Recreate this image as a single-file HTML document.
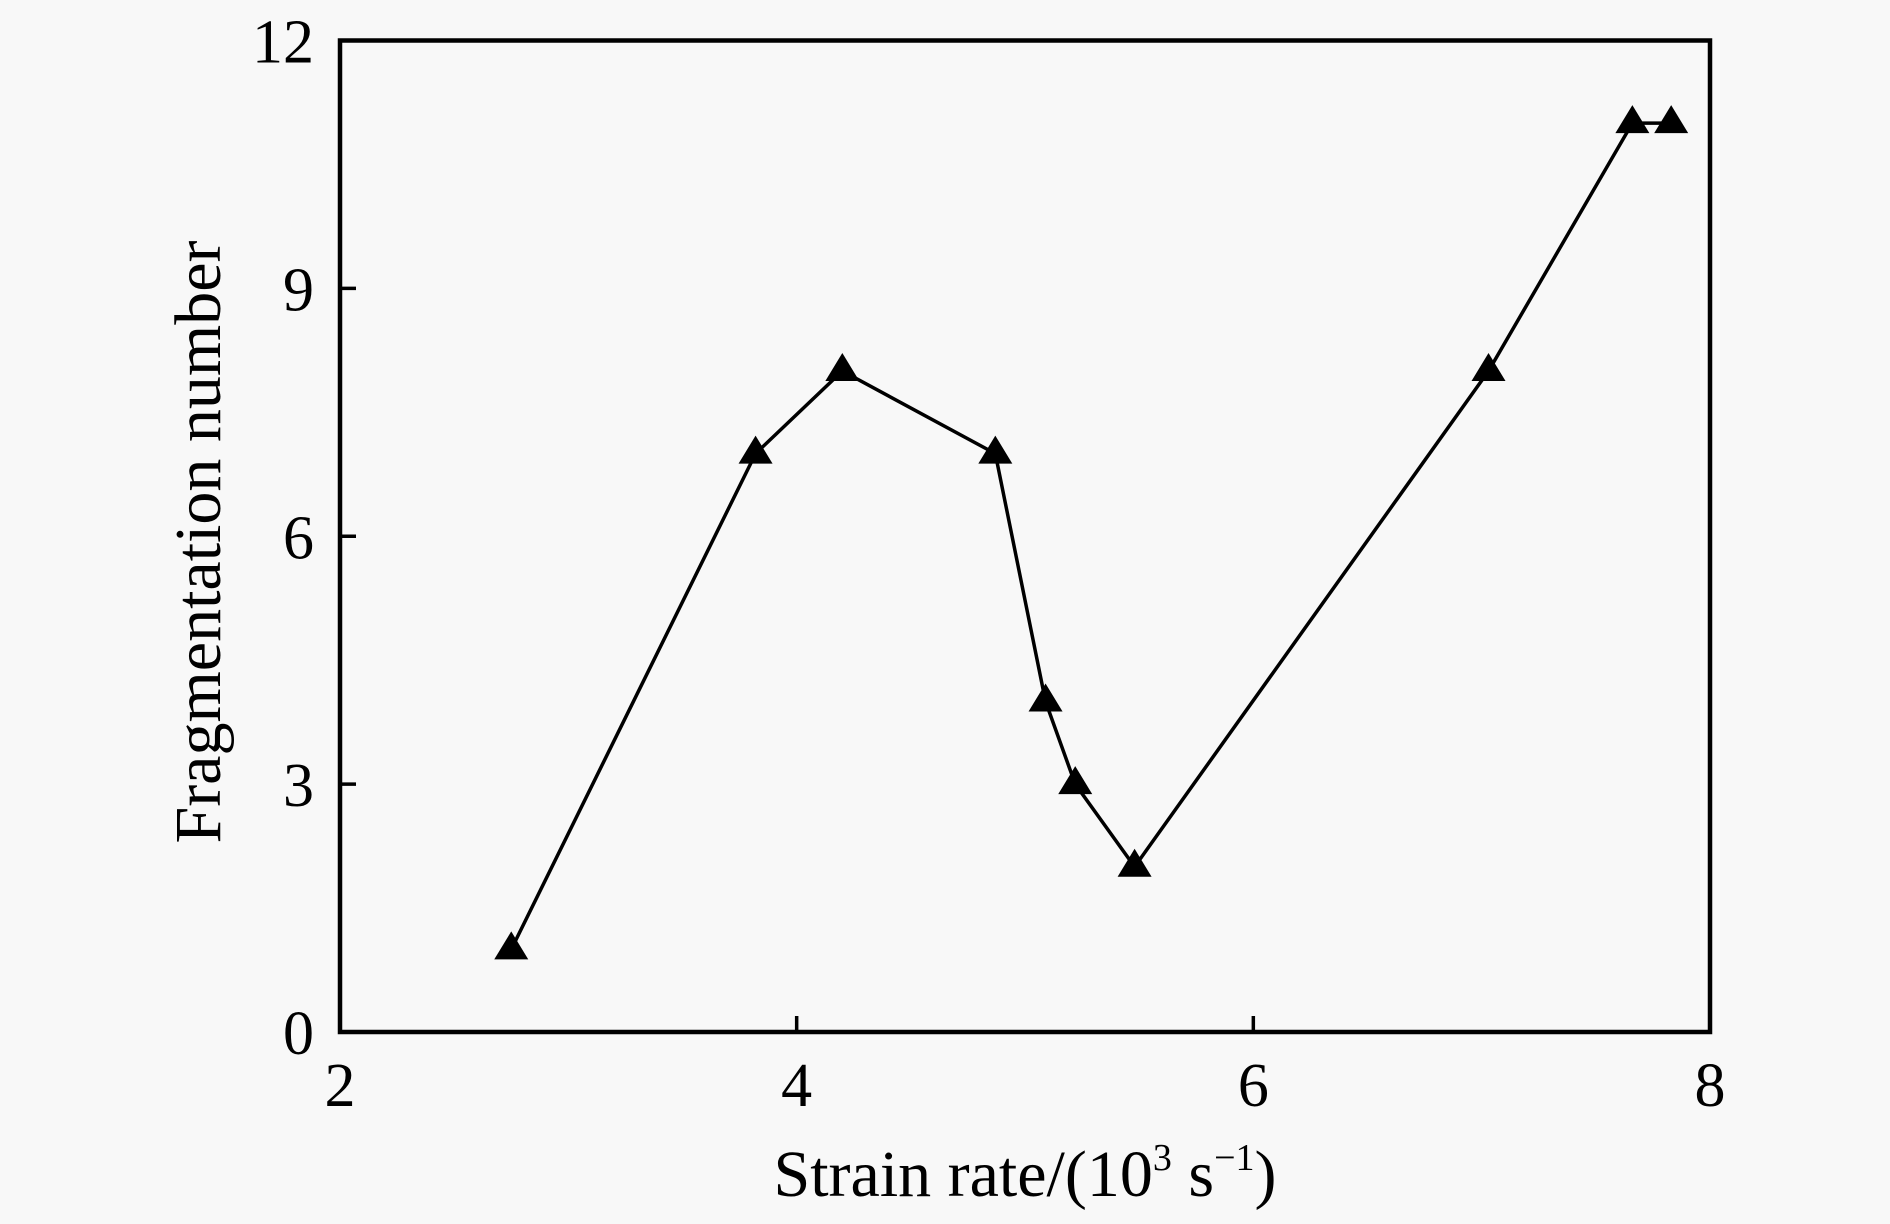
<!DOCTYPE html>
<html><head><meta charset="utf-8"><style>
html,body{margin:0;padding:0;background:#f8f8f8;}
svg{display:block;font-family:"Liberation Serif",serif;}
</style></head><body>
<svg id="chart" width="1890" height="1224" viewBox="0 0 1890 1224">
<rect x="0" y="0" width="1890" height="1224" fill="#f8f8f8"/>
<g id="ticks"></g>
<g id="series"></g>
<rect x="340" y="40.5" width="1370" height="991.5" fill="none" stroke="#000" stroke-width="4.5"/>
<text x="1025" y="1196" font-size="66" text-anchor="middle">Strain rate/(10<tspan font-size="38" dy="-26">3</tspan><tspan dy="26"> s</tspan><tspan font-size="38" dy="-26">−1</tspan><tspan dy="26">)</tspan></text>
<text transform="translate(220,542) rotate(-90)" font-size="66" text-anchor="middle">Fragmentation number</text>
</svg>
<script>
const xData=[2.75,3.82,4.2,4.87,5.09,5.22,5.48,7.03,7.66,7.83];
const yData=[1,7,8,7,4,3,2,8,11,11];
const xTicks=[2,4,6,8];
const yTicks=[0,3,6,9,12];
const NS="http://www.w3.org/2000/svg";
function sx(v){return 340+(v-2)*(1370/6);}
function sy(v){return 1032-v*(991.5/12);}
function mk(tag,attrs,parent){const e=document.createElementNS(NS,tag);for(const k in attrs)e.setAttribute(k,attrs[k]);parent.appendChild(e);return e;}
const tg=document.getElementById('ticks');
xTicks.forEach(t=>{
 const l=mk('line',{x1:sx(t),x2:sx(t),y1:1032,y2:1016,stroke:'#000','stroke-width':3.5},tg);
 
 
 const tx=mk('text',{x:sx(t),y:1106,'font-size':62,'text-anchor':'middle'},tg);
 tx.textContent=t;
 
 
});
yTicks.forEach(t=>{
 const l=mk('line',{x1:340,x2:356,y1:sy(t),y2:sy(t),stroke:'#000','stroke-width':3.5},tg);
 
 
 const tx=mk('text',{x:314,y:sy(t)+22,'font-size':62,'text-anchor':'end'},tg);
 tx.textContent=t;
 
 
});
const sg=document.getElementById('series');
const pl=mk('polyline',{points:xData.map((x,i)=>sx(x)+','+sy(yData[i])).join(' '),fill:'none',stroke:'#000','stroke-width':3.5},sg);


xData.forEach((x,i)=>{
 const cx=sx(x),cy=sy(yData[i]);
 const p=mk('polygon',{points:`${cx},${cy-18} ${cx-17},${cy+10} ${cx+17},${cy+10}`,fill:'#000'},sg);
 
 
});
</script>
</body></html>
